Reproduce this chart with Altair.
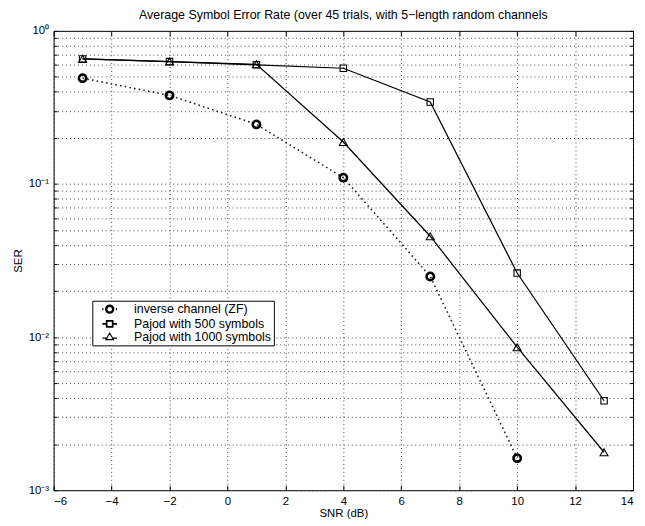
import altair as alt
import pandas as pd

# ---- data ----
snr_zf = [-5, -2, 1, 4, 7, 10]
ser_zf = [0.491, 0.379, 0.245, 0.110, 0.0249, 0.00162]

snr_500 = [-5, -2, 1, 4, 7, 10, 13]
ser_500 = [0.656, 0.630, 0.600, 0.570, 0.343, 0.0262, 0.00384]

snr_1000 = [-5, -2, 1, 4, 7, 10, 13]
ser_1000 = [0.656, 0.630, 0.605, 0.188, 0.0456, 0.00859, 0.00177]

series_names = ["inverse channel (ZF)", "Pajod with 500 symbols", "Pajod with 1000 symbols"]

x_ticks = [-6, -4, -2, 0, 2, 4, 6, 8, 10, 12, 14]
y_grid = [k * 10.0 ** e for e in (-3, -2, -1) for k in range(1, 10)] + [1.0]

rows = []
for name, xs, ys in [(series_names[0], snr_zf, ser_zf),
                     (series_names[1], snr_500, ser_500),
                     (series_names[2], snr_1000, ser_1000)]:
    for a, b in zip(xs, ys):
        rows.append({"series": name, "snr": a, "ser": b})
df = pd.DataFrame(rows)

ylabel_expr = ("datum.value == 1 ? '10⁰' : abs(datum.value - 0.1) < 1e-9 ? '10⁻¹' : "
               "abs(datum.value - 0.01) < 1e-10 ? '10⁻²' : abs(datum.value - 0.001) < 1e-11 ? '10⁻³' : ''")

xs_scale = alt.Scale(domain=[-6, 14], nice=False, zero=False)
ys_scale = alt.Scale(type="log", domain=[0.001, 1], nice=False)

X_main = alt.X("snr:Q", scale=xs_scale,
               axis=alt.Axis(values=x_ticks, title="SNR (dB)",
                             labelExpr="replace(datum.label, '-', '−')",
                             grid=True, ticks=False, domain=False,
                             labelPadding=5, titlePadding=1))
Y_main = alt.Y("ser:Q", scale=ys_scale,
               axis=alt.Axis(values=y_grid, title="SER", labelExpr=ylabel_expr,
                             grid=True, ticks=False, domain=False,
                             labelPadding=5, titlePadding=5))
X_plain = alt.X("snr:Q", scale=xs_scale, axis=None)
Y_plain = alt.Y("ser:Q", scale=ys_scale, axis=None)

base = alt.Chart(df)

def sel(name):
    return base.transform_filter(alt.datum.series == name)

zf_line = sel(series_names[0]).mark_line(color="#222222", strokeWidth=1.6, strokeDash=[1.6, 3.2]).encode(x=X_main, y=Y_main)
zf_pts = sel(series_names[0]).mark_point(shape="circle", size=55, strokeWidth=2.6, color="black",
                                          filled=False, opacity=1).encode(x=X_plain, y=Y_plain)
p500_line = sel(series_names[1]).mark_line(color="black", strokeWidth=1.25).encode(x=X_plain, y=Y_plain)
p500_pts = sel(series_names[1]).mark_point(shape="square", size=42, strokeWidth=1.1, color="black",
                                            filled=False, opacity=1).encode(x=X_plain, y=Y_plain)
p1000_line = sel(series_names[2]).mark_line(color="black", strokeWidth=1.25).encode(x=X_plain, y=Y_plain)
p1000_pts = sel(series_names[2]).mark_point(shape="triangle-up", size=65, strokeWidth=1.1, color="black",
                                             filled=False, opacity=1).encode(x=X_plain, y=Y_plain)

# inward tick marks on all four sides (axes only, no data drawn)
def tick_axis(orient, values, size):
    return alt.Axis(orient=orient, values=values, labels=False, title=None, grid=False,
                    domain=False, ticks=True, tickSize=size, offset=-size,
                    tickColor="black", tickWidth=1)

ticks_tr = base.transform_filter("false").mark_point(opacity=0).encode(
    x=alt.X("snr:Q", scale=xs_scale, axis=tick_axis("top", x_ticks, 5)),
    y=alt.Y("ser:Q", scale=ys_scale, axis=tick_axis("right", y_grid, 3.5)),
)
ticks_bl = base.transform_filter("false").mark_point(opacity=0).encode(
    x=alt.X("snr:Q", scale=xs_scale, axis=tick_axis("bottom", x_ticks, 5)),
    y=alt.Y("ser:Q", scale=ys_scale, axis=tick_axis("left", y_grid, 3.5)),
)

u = 14.0 / 10.0
circ = f"M{0.5*u:.3f},0A{0.5*u:.3f},{0.5*u:.3f},0,1,1,{-0.5*u:.3f},0A{0.5*u:.3f},{0.5*u:.3f},0,1,1,{0.5*u:.3f},0Z"
legend_paths = [
    f"M{-1.05*u:.3f},0H{-0.9*u:.3f}M{0.9*u:.3f},0H{1.05*u:.3f}" + circ,
    f"M{-1.05*u:.3f},0H{-0.43*u:.3f}M{0.43*u:.3f},0H{1.05*u:.3f}M{-0.43*u:.3f},{-0.43*u:.3f}H{0.43*u:.3f}V{0.43*u:.3f}H{-0.43*u:.3f}Z",
    f"M{-1.05*u:.3f},{0.2*u:.3f}H{-0.32*u:.3f}M{0.32*u:.3f},{0.2*u:.3f}H{1.05*u:.3f}M{-0.55*u:.3f},{0.42*u:.3f}L{0.55*u:.3f},{0.42*u:.3f}L0,{-0.52*u:.3f}Z",
]

leg = alt.Legend(orient="none", legendX=39, legendY=272, title=None,
                 strokeColor="black", fillColor="white", padding=2,
                 symbolSize=100, symbolOffset=9, labelOffset=18,
                 symbolStrokeColor="black", symbolFillColor="transparent",
                 labelFontSize=12.5, labelColor="black", rowPadding=-2, labelLimit=300)

legend_layer = base.transform_filter("false").mark_point(filled=False, color="black", opacity=1).encode(
    shape=alt.Shape("series:N", scale=alt.Scale(domain=series_names, range=legend_paths), legend=leg),
    strokeWidth=alt.StrokeWidth("series:N", scale=alt.Scale(domain=series_names, range=[2.4, 1.1, 1.1]), legend=leg),
)

chart = alt.layer(zf_line, p500_line, p1000_line, zf_pts, p500_pts, p1000_pts,
                  ticks_tr, ticks_bl, legend_layer).resolve_axis(
    x="independent", y="independent"
).properties(
    width=584, height=463,
    title=alt.TitleParams("Average Symbol Error Rate (over 45 trials, with 5−length random channels",
                          fontSize=12.5, fontWeight="normal", offset=3, color="black", anchor="middle"),
    autosize=alt.AutoSizeParams(type="none"),
    padding={"left": 46, "top": 21, "right": 4, "bottom": 33},
).configure(font="Liberation Sans").configure_view(
    stroke="black", strokeWidth=1
).configure_axis(
    labelFontSize=11.5, titleFontSize=11.5, titleFontWeight="normal",
    labelColor="black", titleColor="black",
    gridColor="#333333", gridDash=[1, 3], gridWidth=0.9, gridOpacity=1,
)

chart.save("out.html", embed_options={"renderer": "svg", "actions": False})
